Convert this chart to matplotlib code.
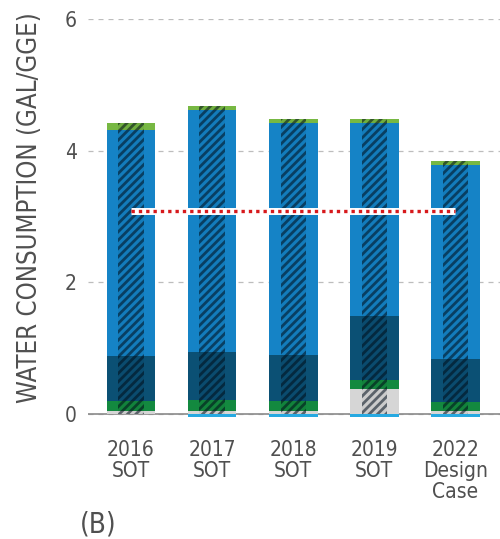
import numpy as np
import matplotlib
matplotlib.use("Agg")
import matplotlib.pyplot as plt

plt.rcParams['font.family'] = ['DejaVu Sans']
plt.rcParams['font.stretch'] = 'condensed'
plt.rcParams['hatch.linewidth'] = 2.0

categories = ["2016\nSOT", "2017\nSOT", "2018\nSOT", "2019\nSOT", "2022\nDesign\nCase"]

# stacked segments, bottom to top (gal/GGE)
negative = [0.0, -0.04, -0.04, -0.04, -0.04]
grey_part = [0.05, 0.05, 0.05, 0.375, 0.05]
green_part = [0.15, 0.16, 0.14, 0.135, 0.13]
dark_part = [0.68, 0.73, 0.70, 0.98, 0.65]
blue_part = [3.43, 3.68, 3.53, 2.93, 2.96]
lgreen_part = [0.11, 0.06, 0.06, 0.06, 0.06]

target = 3.09

seg_colors = ["#d6d6d6", "#13893f", "#0b5074", "#1583c6", "#77b843"]
text_col = "#505050"

fig = plt.figure(figsize=(5.0, 5.39), dpi=100)
ax = fig.add_axes([0.176, 0.2197, 0.824, 0.745])

x = np.arange(len(categories))
width = 0.6

ax.bar(x, negative, width=width, color="#27a9e1", zorder=3, linewidth=0)
bottom = np.zeros(len(x))
for seg, col in zip([grey_part, green_part, dark_part, blue_part, lgreen_part], seg_colors):
    ax.bar(x, seg, width=width, bottom=bottom, color=col, zorder=3, linewidth=0)
    bottom += np.array(seg)

# narrow hatched overlay
ax.bar(x, bottom, width=width * 0.52, facecolor=(0, 0, 0, 0.05),
       edgecolor=(0.0, 0.05, 0.1, 0.55), hatch="////", linewidth=0, zorder=4)

# target line
ax.plot([x[0], x[-1]], [target, target], color="white", lw=5, zorder=5,
        solid_capstyle="butt")
ax.plot([x[0], x[-1]], [target, target], color="#d7191c", lw=2.4,
        linestyle=(0, (1, 1.2)), zorder=6)

ax.axhline(0, color="#8a8a8a", lw=1.2, zorder=2)

ax.set_xlim(-0.53, 4.55)
ax.set_ylim(-0.1, 6.0)
ax.set_yticks([0, 2, 4, 6])
ax.yaxis.grid(True, linestyle=(0, (4, 4)), color="#bdbdbd", lw=0.9)
ax.set_axisbelow(True)
for sp in ax.spines.values():
    sp.set_visible(False)

ax.tick_params(axis="y", length=0, pad=8, labelsize=15, labelcolor=text_col)
ax.tick_params(axis="x", length=0, pad=14, labelsize=15, labelcolor=text_col)
ax.set_xticks(x)
ax.set_xticklabels(categories, linespacing=1.05)

ax.set_ylabel("WATER CONSUMPTION (GAL/GGE)", fontsize=18.5, color=text_col)
ax.yaxis.set_label_coords(-0.11, 0.53)

fig.text(0.16, 0.012, "(B)", fontsize=20, color=text_col)

fig.savefig("out.png", dpi=100)
